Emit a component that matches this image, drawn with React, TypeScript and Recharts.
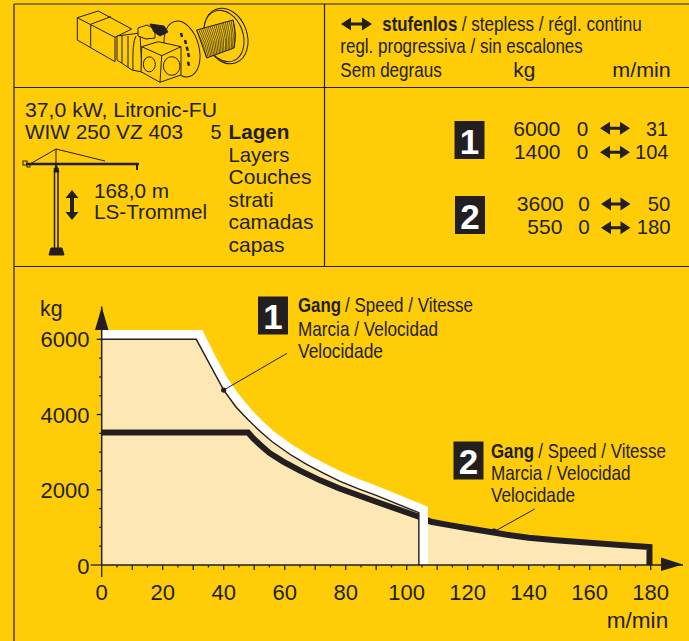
import { ComposedChart, Area, Line, XAxis, YAxis, ReferenceLine, ReferenceDot } from "recharts";

const BG = "#FFCC08";
const INK = "#231F20";
const FILL = "#FDE8B5";
const FONT = "'Liberation Sans', Arial, sans-serif";
const CONDENSE = 0.82;

// values
const gear1Speed = [0, 31, 35, 40, 44, 48, 52, 56, 61.7, 67.2, 72.7, 78, 84, 90, 104, 104];
const gear1Load = [6000, 6000, 5400, 4650, 4200, 3860, 3550, 3270, 2945, 2675, 2445, 2230, 2030, 1850, 1390, 0];

const gear2Speed = [0, 48, 49.7, 52, 55, 59.5, 65, 71.6, 78, 90, 104, 108, 114, 120, 128, 134, 140, 150, 160, 170, 179.6, 179.6];
const gear2Load = [3525, 3525, 3367, 3190, 2980, 2750, 2510, 2250, 2035, 1683, 1284, 1150, 1060, 975, 870, 790, 725, 650, 590, 530, 480, 0];

const haloSpeed = [0, 32.1, 36, 40, 44, 48, 52, 56, 61.7, 67.2, 72.7, 78, 84, 90, 104, 105.5, 105.5];
const haloLoad = [6127, 6127, 5490, 4900, 4440, 4050, 3720, 3430, 3095, 2820, 2585, 2370, 2165, 1985, 1520, 1470, 0];

const xTicks = [0, 5, 10, 15, 20, 25, 30, 35, 40, 45, 50, 55, 60, 65, 70, 75, 80, 85, 90, 95, 100, 105, 110, 115, 120, 125, 130, 135, 140, 145, 150, 155, 160, 165, 170, 175, 180];
const yTicks = [0, 500, 1000, 1500, 2000, 2500, 3000, 3500, 4000, 4500, 5000, 5500, 6000];

const toRows = (speed: number[], load: number[]) => speed.map((s, i) => ({ speed: s, load: load[i] }));

const gear1 = toRows(gear1Speed, gear1Load);
const gear2 = toRows(gear2Speed, gear2Load);
const halo = toRows(haloSpeed, haloLoad);
// area under the outer envelope of both gears
const envelope = [
  ...gear1.slice(0, gear1.length - 1),
  ...gear2.filter((r) => r.speed >= 108),
];

function XTick({ x, y, payload }: any) {
  const v = payload.value;
  const len = v === 0 ? 12 : v % 10 === 0 ? 5 : 2.5;
  return (
    <g>
      <line x1={x} x2={x} y1={y} y2={y + len} stroke={INK} strokeWidth={1.3} />
      {v % 20 === 0 && (
        <text x={x} y={y + 35} textAnchor="middle" fontFamily={FONT} fontSize={22} fill={INK}>
          {v}
        </text>
      )}
    </g>
  );
}

function YTick({ x, y, payload }: any) {
  const v = payload.value;
  const len = v === 0 ? 11 : v % 2000 === 0 ? 5 : 2.5;
  return (
    <g>
      <line x1={x - len} x2={x} y1={y} y2={y} stroke={INK} strokeWidth={1.3} />
      {v % 2000 === 0 && (
        <text x={89.5} y={y + (v === 0 ? 9 : 8)} textAnchor="end" fontFamily={FONT} fontSize={22} fill={INK}>
          {v}
        </text>
      )}
    </g>
  );
}

// n = condensed type, as in the multilingual captions
function T({ x, y, w, b, n, children, size = 21 }: any) {
  const sx = n ? CONDENSE : 1;
  return (
    <text
      transform={`translate(${x} ${y}) scale(${sx} 1)`}
      textLength={w / sx}
      lengthAdjust="spacingAndGlyphs"
      fontFamily={FONT}
      fontSize={size}
      fontWeight={b ? "bold" : "normal"}
      fill={INK}
    >
      {children}
    </text>
  );
}

function DoubleArrow({ x1, x2, y }: any) {
  const mid = x2 - x1 - 20;
  return <path fill={INK} d={`M${x1} ${y}l10 -6.5v5h${mid}v-5l10 6.5l-10 6.5v-5h-${mid}v5z`} />;
}

function Badge({ x, y, n }: any) {
  return (
    <g>
      <rect x={x} y={y} width={30} height={38} fill={INK} />
      <text x={x + 15} y={y + 32.5} textAnchor="middle" fontFamily={FONT} fontWeight="bold" fontSize={35} fill="#fff">
        {n}
      </text>
    </g>
  );
}

function Winch() {
  const hatch = Array.from({ length: 20 }, (_, i) => i / 19);
  const bolts = [
    [181, 33],
    [185, 40],
    [186.7, 46.7],
    [188, 53],
    [188, 61.7],
  ];
  return (
    <g fill={BG} stroke={INK} strokeWidth={1}>
      <ellipse cx={226} cy={36} rx={21} ry={28.5} transform="rotate(-20 226 36)" />
      <ellipse cx={224} cy={36} rx={19} ry={26.5} transform="rotate(-20 224 36)" />
      <path d="M196.7 30L233 20Q237 34 234 48L206.7 58Z" />
      {hatch.map((t) => {
        const ax = 196.7 + 36.3 * t;
        const ay = 30 - 10 * t;
        const bx = 206.7 + 27.3 * t;
        const by = 58 - 10 * t;
        return <path key={t} d={`M${ax} ${ay}Q${(ax + bx) / 2 + 3} ${(ay + by) / 2 + 1} ${bx} ${by}`} fill="none" strokeWidth={0.7} />;
      })}
      <ellipse cx={182} cy={49} rx={17} ry={28.5} transform="rotate(-15 182 49)" />
      <path d="M77.3 17.7L98.3 11L131.7 29L115 37.3V61.7L77.3 40Z" />
      <path d="M77.3 17.7L115 37.3M90.7 24.3L110.7 16.7M90.7 24.3V46.7" fill="none" />
      <path d="M117 36L140 33L142 72L132 70L117 60Z" />
      <path d="M122 36V63M128 36V67M136 36Q132 42 133 70" fill="none" />
      <path d="M138 28L147 25L155 29V38L146 39L138 36Z" />
      <path d="M150 24L164 26L168 32L160 36L154 32Z" fill={INK} />
      <path d="M141.7 46.7L158.3 41.7L181 46.7L181 75L160 82.3L141 71.7Z" />
      <path d="M141.7 46.7L161.7 55.7L181 46.7M161.7 55.7L160 82.3" fill="none" />
      <ellipse cx={149.3} cy={64.3} rx={6} ry={7.5} />
      <ellipse cx={171.7} cy={66} rx={8.3} ry={9.3} />
      {bolts.map(([bx, by]) => (
        <path key={by} d={`M${bx} ${by}l1 4`} fill="none" strokeWidth={2.5} />
      ))}
    </g>
  );
}

function Crane() {
  return (
    <g stroke={INK} fill="none">
      <path d="M54.5 168V248M58 168V248" strokeWidth={1.5} />
      <path d="M26 164H139" strokeWidth={2.5} />
      <path d="M30 164L56 149L105 161M56 149V164" strokeWidth={1} />
      <path d="M56 164L54 172H59Z" fill={INK} />
      <rect x={23} y={161} width={4} height={4} />
      <rect x={27} y={164} width={3} height={3} />
      <path d="M137 164V170" strokeWidth={2} />
      <path d="M49 255L51 248H62L64 255Z" fill={INK} />
      <path d="M72 190l-6.5 8h4.5v14h-4.5l6.5 8l6.5 -8h-4.5v-14h4.5z" fill={INK} stroke="none" />
    </g>
  );
}

function Overlay() {
  return (
    <svg width={689} height={641} style={{ position: "absolute", left: 0, top: 0, pointerEvents: "none" }}>
      <g stroke={INK} strokeWidth={1.2}>
        <line x1={14} x2={14} y1={4} y2={641} />
        <line x1={14} x2={689} y1={4} y2={4} />
        <line x1={14} x2={689} y1={87.5} y2={87.5} />
        <line x1={14} x2={689} y1={266.5} y2={266.5} />
        <line x1={324.5} x2={324.5} y1={4} y2={266} />
      </g>

      <Winch />
      <Crane />

      <T x={25} y={116.7} w={192}>37,0 kW, Litronic-FU</T>
      <T x={25} y={138.7} w={158}>WIW 250 VZ 403</T>
      <T x={210.5} y={138.7} w={11}>5</T>
      <T x={228.5} y={138.7} w={61} b>Lagen</T>
      <T x={228.5} y={161.7} w={61}>Layers</T>
      <T x={228.5} y={184.3} w={83}>Couches</T>
      <T x={228.5} y={206.7} w={45}>strati</T>
      <T x={228.5} y={229.3} w={85}>camadas</T>
      <T x={228.5} y={251.7} w={56}>capas</T>
      <T x={94} y={197.7} w={75}>168,0 m</T>
      <T x={94} y={219.3} w={113}>LS-Trommel</T>

      <DoubleArrow x1={341} x2={372} y={24} />
      <T x={382.3} y={30.7} w={75} b n>stufenlos</T>
      <T x={461.7} y={30.7} w={180} n>/ stepless / régl. continu</T>
      <T x={340.3} y={53.3} w={242.5} n>regl. progressiva / sin escalones</T>
      <T x={340.3} y={76.7} w={101.5} n>Sem degraus</T>
      <T x={513.3} y={76.7} w={22}>kg</T>
      <T x={612.3} y={76.7} w={58.5}>m/min</T>

      <Badge x={454.5} y={121} n="1" />
      <T x={513.3} y={135.7} w={47}>6000</T>
      <T x={576.7} y={135.7} w={11.5}>0</T>
      <DoubleArrow x1={600} x2={630} y={128.3} />
      <T x={646} y={135.7} w={22}>31</T>
      <T x={514} y={158.7} w={46.5}>1400</T>
      <T x={576.7} y={158.7} w={11.5}>0</T>
      <DoubleArrow x1={600} x2={630} y={152.3} />
      <T x={635} y={158.7} w={33.5}>104</T>

      <Badge x={455} y={196} n="2" />
      <T x={516.7} y={210.7} w={47}>3600</T>
      <T x={578.3} y={210.7} w={11.5}>0</T>
      <DoubleArrow x1={601} x2={630.5} y={204} />
      <T x={647.7} y={210.7} w={22.5}>50</T>
      <T x={527.3} y={234} w={35}>550</T>
      <T x={578.3} y={234} w={11.5}>0</T>
      <DoubleArrow x1={601} x2={630.5} y={227.7} />
      <T x={636.7} y={234} w={34}>180</T>

      <T x={40} y={315.7} w={22.5} size={22}>kg</T>
      <T x={606.7} y={628.3} w={61.5} size={22}>m/min</T>

      <Badge x={258} y={296.5} n="1" />
      <T x={298} y={311.7} w={43} b n>Gang</T>
      <T x={345} y={311.7} w={128} n>/ Speed / Vitesse</T>
      <T x={298} y={335.7} w={140} n>Marcia / Velocidad</T>
      <T x={298} y={358.3} w={85} n>Velocidade</T>

      <Badge x={453.5} y={441.5} n="2" />
      <T x={491} y={458.3} w={43} b n>Gang</T>
      <T x={538.3} y={458.3} w={127.5} n>/ Speed / Vitesse</T>
      <T x={491} y={480} w={139.5} n>Marcia / Velocidad</T>
      <T x={491} y={502.3} w={84} n>Velocidade</T>

      <path d="M108.5 330H95L101.7 307Z M661 557.5V571L683 564.5Z" fill={INK} />
    </svg>
  );
}

export default function App() {
  return (
    <div style={{ position: "absolute", left: 0, top: 0, width: 689, height: 641, background: BG, overflow: "hidden" }}>
      <ComposedChart width={689} height={641} margin={{ top: 306.6, right: 6, bottom: 0, left: 0 }}>
        <XAxis
          dataKey="speed"
          type="number"
          domain={[0, 190.6]}
          ticks={xTicks}
          interval={0}
          height={76}
          tick={XTick}
          tickLine={false}
          tickSize={0}
          tickMargin={0}
          axisLine={{ stroke: INK, strokeWidth: 1.5 }}
          allowDuplicatedCategory={false}
        />
        <YAxis
          dataKey="load"
          type="number"
          domain={[0, 6870]}
          ticks={yTicks}
          interval={0}
          width={101.7}
          tick={YTick}
          tickLine={false}
          tickSize={0}
          tickMargin={0}
          axisLine={{ stroke: INK, strokeWidth: 1.5 }}
        />
        <Area data={envelope} dataKey="load" type="linear" stroke="none" fill={FILL} fillOpacity={1} dot={false} isAnimationActive={false} />
        <Line data={gear2} dataKey="load" type="linear" stroke={INK} strokeWidth={6} strokeLinejoin="miter" dot={false} isAnimationActive={false} />
        <Line data={halo} dataKey="load" type="linear" stroke="#fff" strokeWidth={9} strokeLinejoin="miter" dot={false} isAnimationActive={false} />
        <Line data={gear1} dataKey="load" type="linear" stroke={INK} strokeWidth={1.4} strokeLinejoin="miter" dot={false} isAnimationActive={false} />
        <ReferenceLine segment={[{ x: 40, y: 4650 }, { x: 60.75, y: 5627 }]} stroke={INK} strokeWidth={1} />
        <ReferenceDot x={40} y={4650} r={2.6} fill={INK} stroke="none" />
        <ReferenceLine segment={[{ x: 128.6, y: 885 }, { x: 142, y: 1489 }]} stroke={INK} strokeWidth={1} />
        <ReferenceDot x={128.6} y={885} r={3.2} fill={INK} stroke="none" />
      </ComposedChart>
      <Overlay />
    </div>
  );
}
